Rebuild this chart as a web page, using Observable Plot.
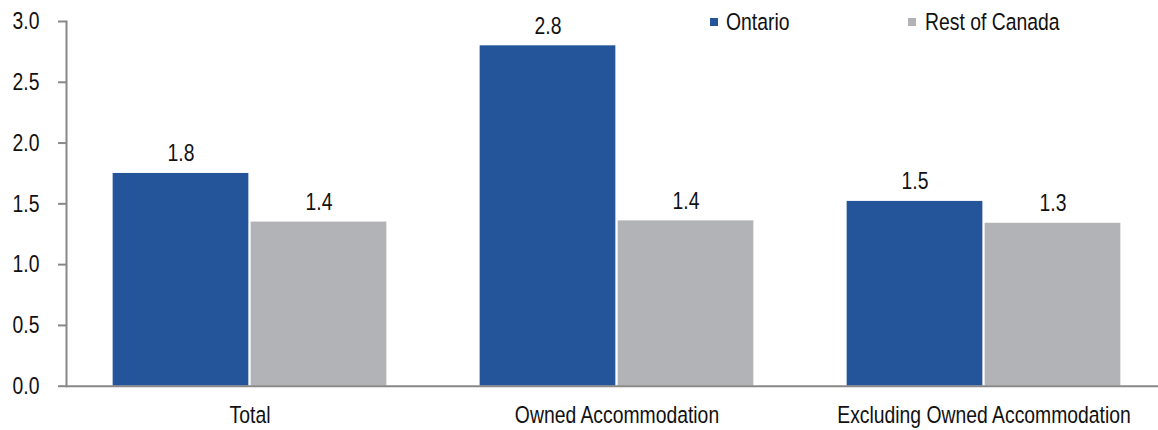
<!DOCTYPE html>
<html>
<head>
<meta charset="utf-8">
<script src="https://cdn.jsdelivr.net/npm/d3@7"></script>
<script src="https://cdn.jsdelivr.net/npm/@observablehq/plot@0.6"></script>
<style>
  html, body { margin: 0; padding: 0; overflow: hidden; background: #fff; }
  #wrap { position: relative; width: 1158px; height: 430px; }
  .lg-sw { position: absolute; width: 8px; height: 8px; top: 18px; }
  .lg-tx { position: absolute; top: 10px; line-height: 24px; font-size: 24.5px; color: #111;
           font-family: "Liberation Sans", Arial, sans-serif; white-space: nowrap;
           transform: scaleX(0.79); transform-origin: 0 50%; }
</style>
</head>
<body>
<div id="wrap"></div>
<script>
// ---- data ----
const categories = ["Total", "Owned Accommodation", "Excluding Owned Accommodation"];
const series = ["Ontario", "Rest of Canada"];
const ontario = [1.75, 2.8, 1.52];
const restOfCanada = [1.35, 1.36, 1.34];
const yTicks = [0, 0.5, 1.0, 1.5, 2.0, 2.5, 3.0];
const seriesColors = ["#24559B", "#B2B3B6"];

const rows = [];
categories.forEach((c, i) => {
  rows.push({category: c, series: series[0], value: ontario[i]});
  rows.push({category: c, series: series[1], value: restOfCanada[i]});
});

const FONT = '"Liberation Sans", Arial, sans-serif';
const AXIS = "#888888";
const NARROW = 0.79; // horizontal condensing of the text (narrow face look)

const chart = Plot.plot({
  width: 1158,
  height: 430,
  marginLeft: 65.5,
  marginRight: -9.5,
  marginTop: 21,
  marginBottom: 44.3,
  style: {fontFamily: FONT, fontSize: "24.5px", color: "#111", background: "transparent"},
  fx: {domain: categories, padding: 0, label: null},
  x: {domain: series, axis: null, paddingInner: 0, paddingOuter: 0.3295},
  y: {domain: [0, 3], label: null},
  color: {domain: series, range: seriesColors},
  marks: [
    Plot.barY(rows, {fx: "category", x: "series", y: "value", fill: "series", insetLeft: 1.15, insetRight: 1.15}),
    Plot.text(rows, {fx: "category", x: "series", y: "value", text: d => d.value.toFixed(1),
                     lineAnchor: "bottom", dy: -12, fill: "#111"}),
    Plot.axisY({ticks: yTicks, tickFormat: d => d.toFixed(1), tickSize: 8, tickPadding: 19,
                stroke: AXIS, strokeWidth: 2, fill: "#111", label: null}),
    Plot.frame({anchor: "left", stroke: AXIS, strokeWidth: 2, facetAnchor: "left"}),
    Plot.axisFx({anchor: "bottom", tickSize: 0, tickPadding: 19, label: null, fill: "#111"}),
    Plot.ruleY([0], {stroke: AXIS, strokeWidth: 2})
  ]
});

// condense every text horizontally about its own anchor point
chart.querySelectorAll("text").forEach(t => {
  let tr = t.getAttribute("transform");
  if (!tr) {
    const x = t.getAttribute("x") || 0, y = t.getAttribute("y") || 0;
    t.removeAttribute("x"); t.removeAttribute("y");
    tr = `translate(${x},${y})`;
  }
  t.setAttribute("transform", tr + ` scale(${NARROW},1)`);
});

const wrap = document.getElementById("wrap");
wrap.appendChild(chart);

// legend (HTML, overlaid at top right)
const legendPos = [[710, 726], [908, 925]];
series.forEach((s, i) => {
  const sw = document.createElement("div");
  sw.className = "lg-sw";
  sw.style.left = legendPos[i][0] + "px";
  sw.style.background = seriesColors[i];
  wrap.appendChild(sw);
  const tx = document.createElement("div");
  tx.className = "lg-tx";
  tx.style.left = legendPos[i][1] + "px";
  tx.textContent = s;
  wrap.appendChild(tx);
});
</script>
</body>
</html>
